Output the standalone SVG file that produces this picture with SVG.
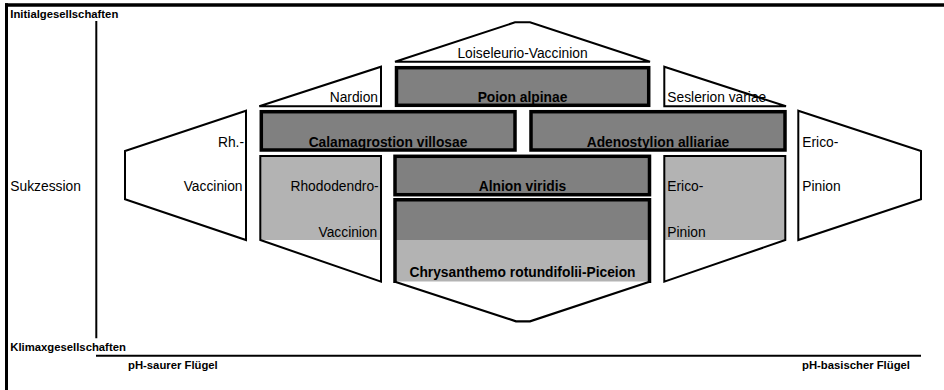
<svg xmlns="http://www.w3.org/2000/svg" width="944" height="390" viewBox="0 0 944 390">
<style>
.t{font-family:"Liberation Sans",Arial,sans-serif;font-size:13.8px;fill:#000}
.b{font-family:"Liberation Sans",Arial,sans-serif;font-size:13.8px;font-weight:bold;fill:#000}
.s{font-family:"Liberation Sans",Arial,sans-serif;font-size:11.3px;font-weight:bold;fill:#000}
.thin{fill:none;stroke:#000;stroke-width:2;stroke-linejoin:miter}
.wthin{fill:#fff;stroke:#000;stroke-width:2}
.box{fill:#808080;stroke:#000;stroke-width:3.5}
.dark{fill:#808080}
.light{fill:#b3b3b3}
.c{text-anchor:middle}
.e{text-anchor:end}
</style>
<rect x="0" y="0" width="944" height="390" fill="#fff"/>
<g id="frame">
<line x1="5" y1="5" x2="944" y2="5" stroke="#000" stroke-width="3.4"/>
<line x1="6.5" y1="3.3" x2="6.5" y2="390" stroke="#000" stroke-width="3"/>
</g>
<g id="connectors">
<line x1="96.3" y1="21" x2="96.3" y2="338.3" stroke="#000" stroke-width="2"/>
<line x1="96" y1="355.7" x2="921" y2="355.7" stroke="#000" stroke-width="2"/>
</g>
<g id="labels">
<text class="s" x="10.3" y="17.7">Initialgesellschaften</text>
<text class="s" x="10.3" y="351">Klimaxgesellschaften</text>
<text class="t" x="10.3" y="190.7">Sukzession</text>
<text class="s" x="128" y="369.3">pH-saurer Flügel</text>
<text class="s" x="802" y="369.3">pH-basischer Flügel</text>
</g>
<g id="loiseleurio-vaccinion">
<polygon class="wthin" points="395,61.7 515,22.3 530,22.3 650,61.7"/>
<text class="t c" x="522.5" y="58">Loiseleurio-Vaccinion</text>
</g>
<g id="nardion">
<polygon class="wthin" points="259.3,106.3 381,66.7 381,106.3"/>
<text class="t e" x="378" y="102">Nardion</text>
</g>
<g id="poion-alpinae">
<rect class="box" x="396.5" y="67.7" width="252.2" height="37.6"/>
<text class="b c" x="522.5" y="101.5">Poion alpinae</text>
</g>
<g id="seslerion-variae">
<polygon class="wthin" points="664.3,66.7 786,106.3 664.3,106.3"/>
<text class="t" x="667.3" y="101.7">Seslerion variae</text>
</g>
<g id="rh-vaccinion-outer">
<polygon class="wthin" points="246,110.7 125,151 125,199.3 246,240"/>
<text class="t e" x="244" y="146.7">Rh.-</text>
<text class="t e" x="242.5" y="190.7">Vaccinion</text>
</g>
<g id="calamagrostion-villosae">
<rect class="box" x="261.3" y="111.7" width="253.7" height="38.3"/>
<text class="b c" x="388" y="146.7">Calamagrostion villosae</text>
</g>
<g id="adenostylion-alliariae">
<rect class="box" x="531" y="111.7" width="254" height="38.3"/>
<text class="b c" x="658" y="146.7">Adenostylion alliariae</text>
</g>
<g id="erico-pinion-outer">
<polygon class="wthin" points="798.3,110.7 921,151 921,199.3 798.3,240"/>
<text class="t" x="802.3" y="146.7">Erico-</text>
<text class="t" x="802.3" y="190.7">Pinion</text>
</g>
<g id="rhododendro-vaccinion">
<rect class="light" x="260.3" y="156" width="120.7" height="84"/>
<polygon class="thin" points="260.3,156 381,156 381,281.7 260.3,240"/>
<text class="t e" x="378.7" y="190.7">Rhododendro-</text>
<text class="t e" x="377.3" y="236.7">Vaccinion</text>
</g>
<g id="alnion-viridis">
<rect class="box" x="395" y="156.3" width="254.5" height="38.4"/>
<text class="b c" x="522.5" y="190.7">Alnion viridis</text>
</g>
<g id="erico-pinion-inner">
<rect class="light" x="664.3" y="156" width="121" height="84"/>
<polygon class="thin" points="664.3,156 785.3,156 785.3,240 664.3,281.7"/>
<text class="t" x="667.3" y="190.7">Erico-</text>
<text class="t" x="667.3" y="236.7">Pinion</text>
</g>
<g id="chrysanthemo-piceion">
<rect class="dark" x="395" y="199.7" width="254.5" height="40.3"/>
<rect class="light" x="395" y="240" width="254.5" height="41.5"/>
<polyline points="395,281.7 516,321.3 530,321.3 649.5,281.7" fill="none" stroke="#000" stroke-width="2.2"/>
<polyline points="395,283 395,199.7 649.5,199.7 649.5,283" fill="none" stroke="#000" stroke-width="3.5"/>
<text class="b c" x="522.5" y="276.7">Chrysanthemo rotundifolii-Piceion</text>
</g>
</svg>
